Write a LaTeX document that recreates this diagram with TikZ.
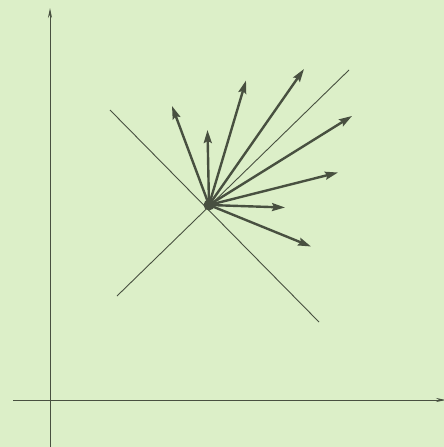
\documentclass[tikz,border=0pt]{standalone}
\usetikzlibrary{arrows.meta}
\definecolor{paper}{RGB}{220,239,200}
\definecolor{ink}{RGB}{72,80,64}
\begin{document}
\begin{tikzpicture}[x=1pt,y=-1pt,>={Stealth[length=13pt,width=8pt,inset=2pt]}]
            \fill[paper] (0,0) rectangle (444,447);
            \useasboundingbox (0,0) rectangle (444,447);
            % axes
            \draw[ink,line width=1pt,->,>={Stealth[length=10pt,width=4pt]}] (13,400) -- (446,400); \draw[ink,line width=1pt,->,>={Stealth[length=10pt,width=4pt]}] (50,447) -- (50,8);
            % the two lines through the point
            \coordinate (O) at (209,205);
            \draw[ink,line width=0.9pt] (110,110) -- (319,322);
            \draw[ink,line width=0.9pt] (117,296) -- (349,70);
            \fill[ink] (O) circle (5.5);
            % vectors
            \foreach \tip in {(172,106),(207.5,130),(246,80.5),(304,69),(352,116),(338,172.5),(285,207.5),(311,246.5)}
                \draw[ink,line width=2.4pt,->] (O) -- \tip;
    \end{tikzpicture}
\end{document}
